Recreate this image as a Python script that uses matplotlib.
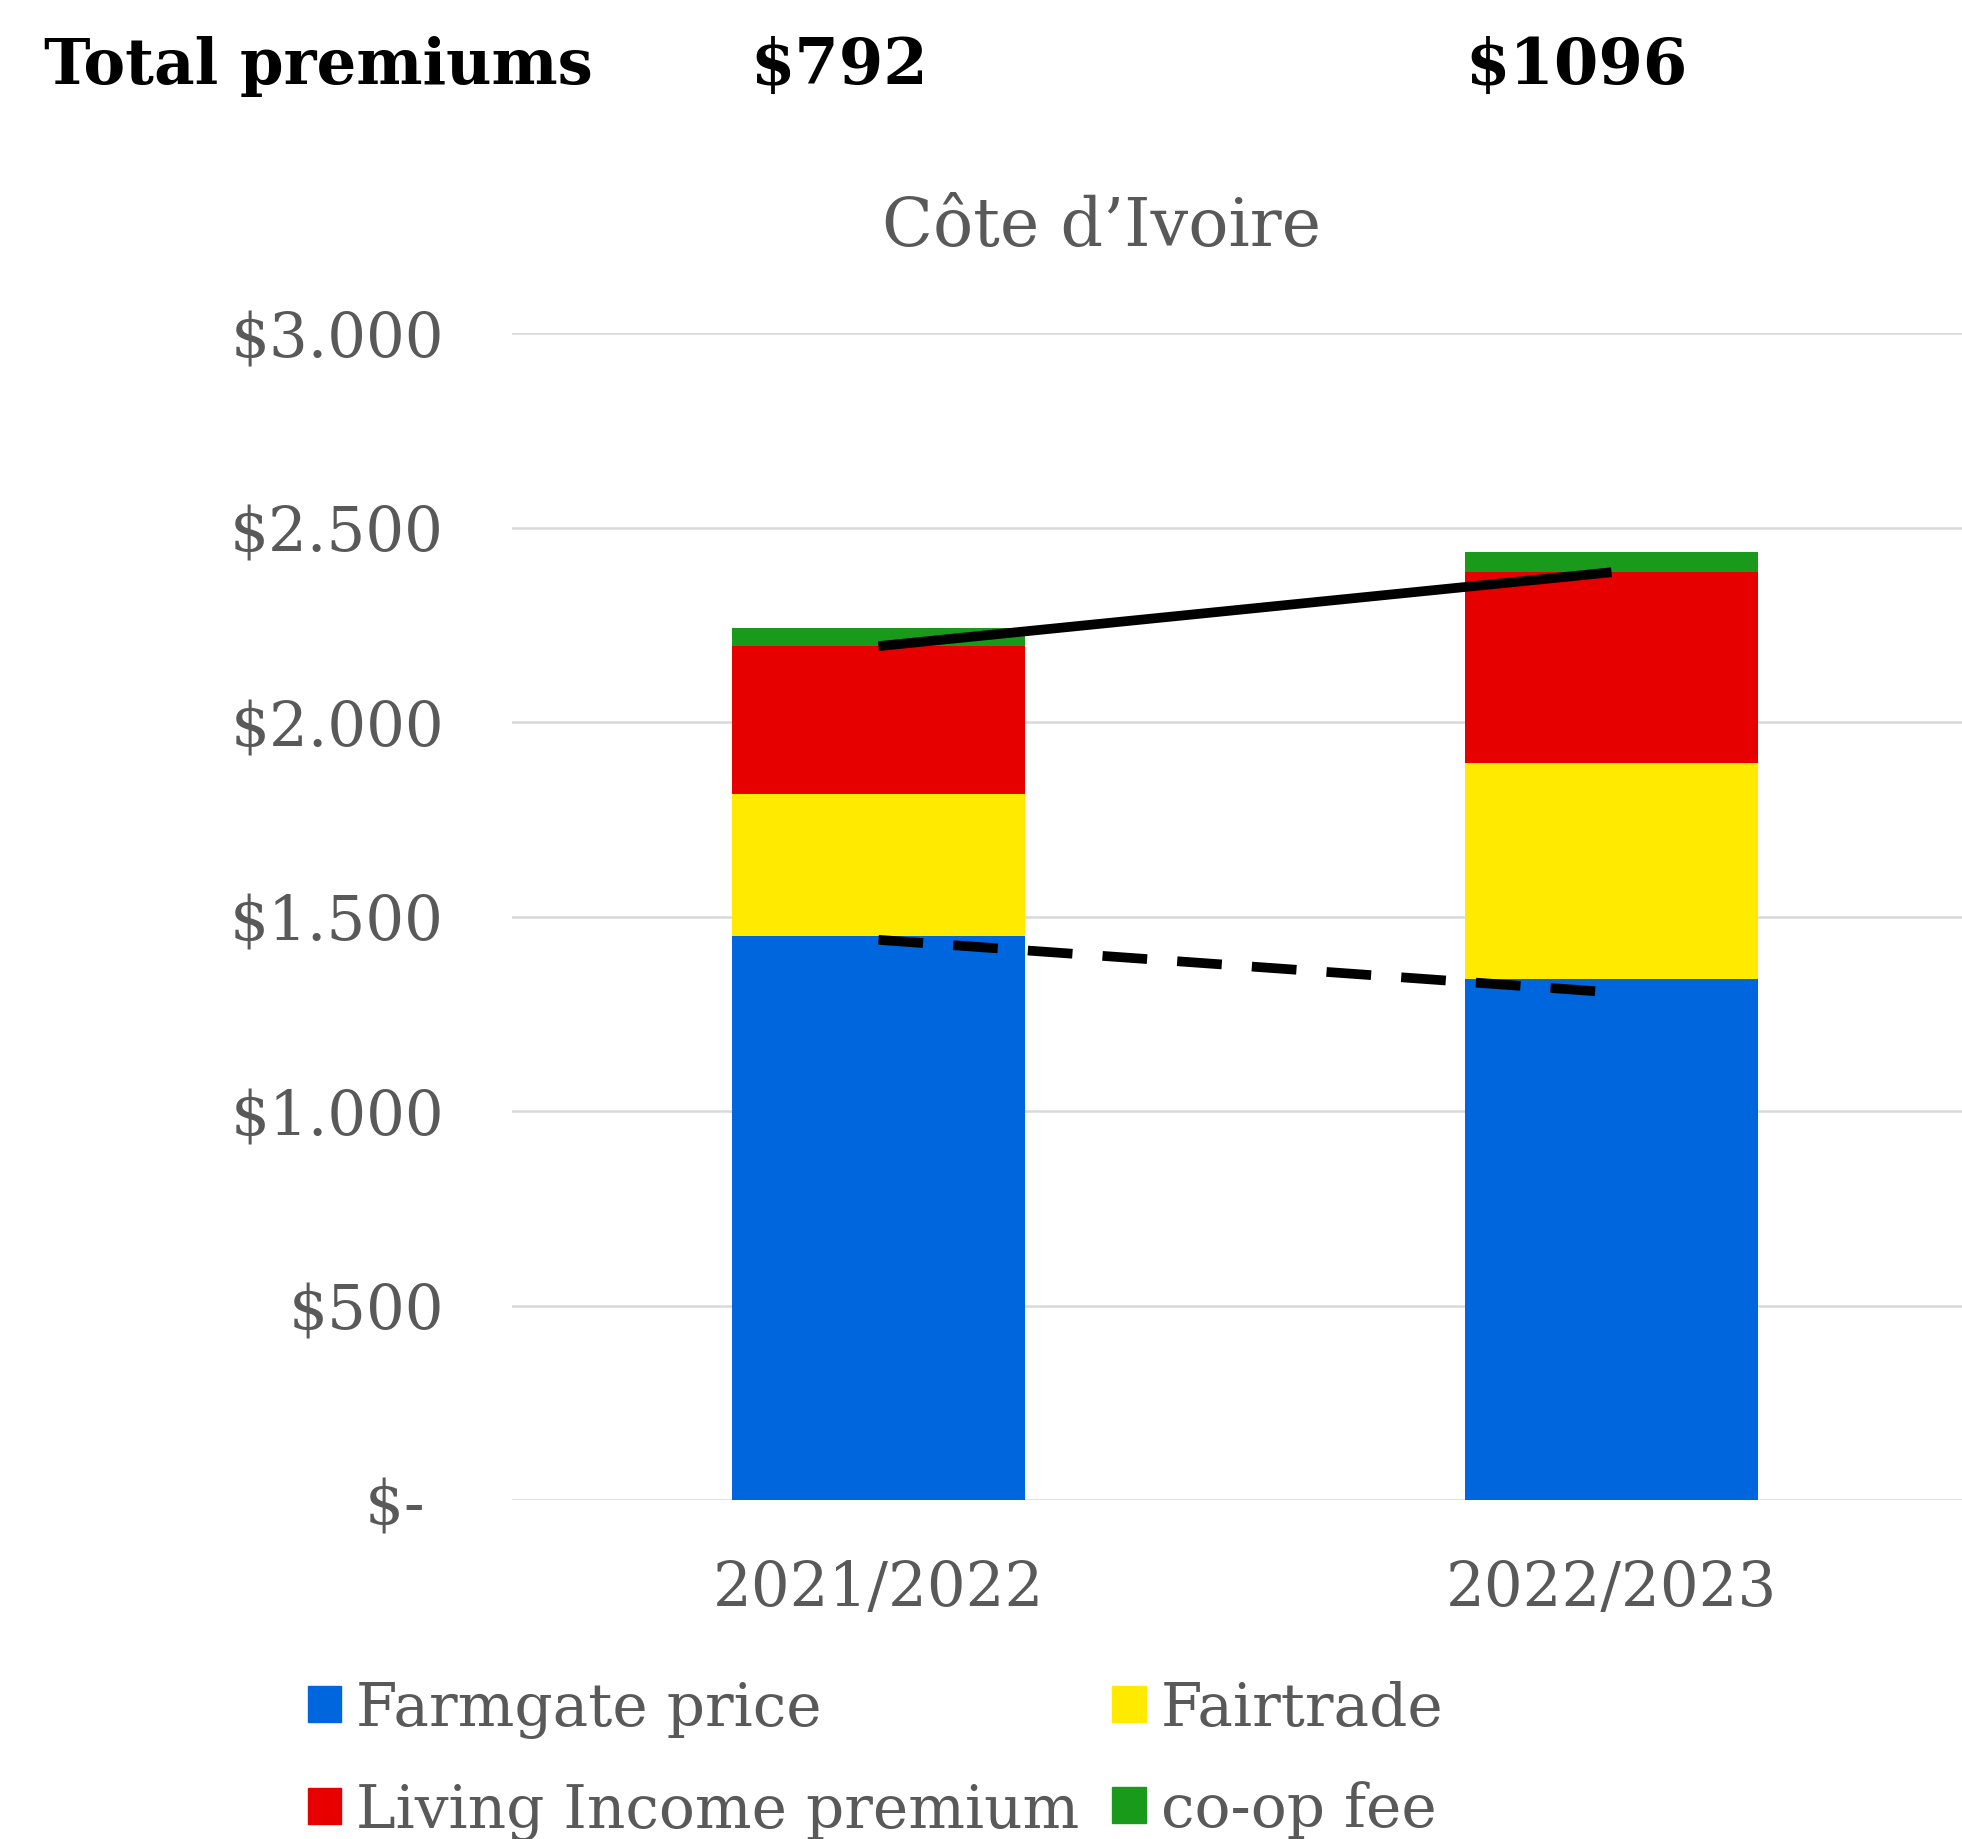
import numpy as np
import matplotlib.pyplot as plt
from matplotlib.patches import Patch

# values (USD per tonne)
seasons = ['2021/2022', '2022/2023']
farmgate = [1450, 1340]
fairtrade = [365, 555]
living_income = [380, 490]
coop_fee = [47, 51]
dashed_ref = [1440, 1305]
premium_totals = ['$792', '$1096']

yticks = [0, 500, 1000, 1500, 2000, 2500, 3000]
ytick_labels = ['$- ', '$500', '$1.000', '$1.500', '$2.000', '$2.500', '$3.000']

col_blue = '#0066DD'
col_yellow = '#FFEA00'
col_red = '#E60000'
col_green = '#1A9A1A'
grey_txt = '#595959'

plt.rcParams['font.family'] = ['DejaVu Serif']

fig = plt.figure(figsize=(19.62, 18.4), dpi=100)
ax = fig.add_axes([512 / 1962, 339 / 1840, 1466 / 1962, 1167 / 1840])

x = np.arange(len(seasons))
w = 0.40
b1 = np.array(farmgate)
b2 = b1 + np.array(fairtrade)
b3 = b2 + np.array(living_income)

ax.bar(x, farmgate, w, color=col_blue, zorder=2)
ax.bar(x, fairtrade, w, bottom=b1, color=col_yellow, zorder=2)
ax.bar(x, living_income, w, bottom=b2, color=col_red, zorder=2)
ax.bar(x, coop_fee, w, bottom=b3, color=col_green, zorder=2)

# trend lines across the bar centres
ax.plot(x, b3, color='black', lw=7, solid_capstyle='butt', zorder=3)
ax.plot(x, dashed_ref, color='black', lw=7, dashes=(4.6, 3.1), dash_capstyle='butt', zorder=3)

ax.set_xlim(-0.5, 1.5)
ax.set_ylim(0, 3000)
ax.set_yticks(yticks)
ax.set_yticklabels(ytick_labels)
ax.set_xticks(x)
ax.set_xticklabels(seasons)
ax.tick_params(axis='y', length=0, pad=49, labelsize=44, labelcolor=grey_txt)
ax.tick_params(axis='x', length=0, pad=42, labelsize=44, labelcolor=grey_txt)
ax.grid(axis='y', color='#D9D9D9', lw=1.8, zorder=0)
for s in ax.spines.values():
    s.set_visible(False)

fig.text(1102 / 1962, 1 - 246 / 1840, 'Côte d\u2019Ivoire', ha='center', va='baseline',
         fontsize=48, color=grey_txt)

fig.text(44 / 1962, 1 - 84 / 1840, 'Total premiums', ha='left', va='baseline', fontsize=45,
         fontweight='bold', color='black')
fig.text(750 / 1962, 1 - 84 / 1840, premium_totals[0], ha='left', va='baseline', fontsize=46,
         fontweight='bold', color='black')
fig.text(1465 / 1962, 1 - 84 / 1840, premium_totals[1], ha='left', va='baseline', fontsize=46,
         fontweight='bold', color='black')

handles = [Patch(color=col_blue, label='Farmgate price'),
           Patch(color=col_red, label='Living Income premium'),
           Patch(color=col_yellow, label='Fairtrade'),
           Patch(color=col_green, label='co-op fee')]
fig.legend(handles=handles, ncol=2, loc='upper left', bbox_to_anchor=(308 / 1962, 1 - 1680 / 1840),
           frameon=False, fontsize=43, labelcolor=grey_txt, handlelength=0.56, handleheight=0.56,
           handletextpad=0.25, columnspacing=0.55, labelspacing=0.72, borderpad=0, borderaxespad=0)

fig.savefig('out.png', dpi=100)
